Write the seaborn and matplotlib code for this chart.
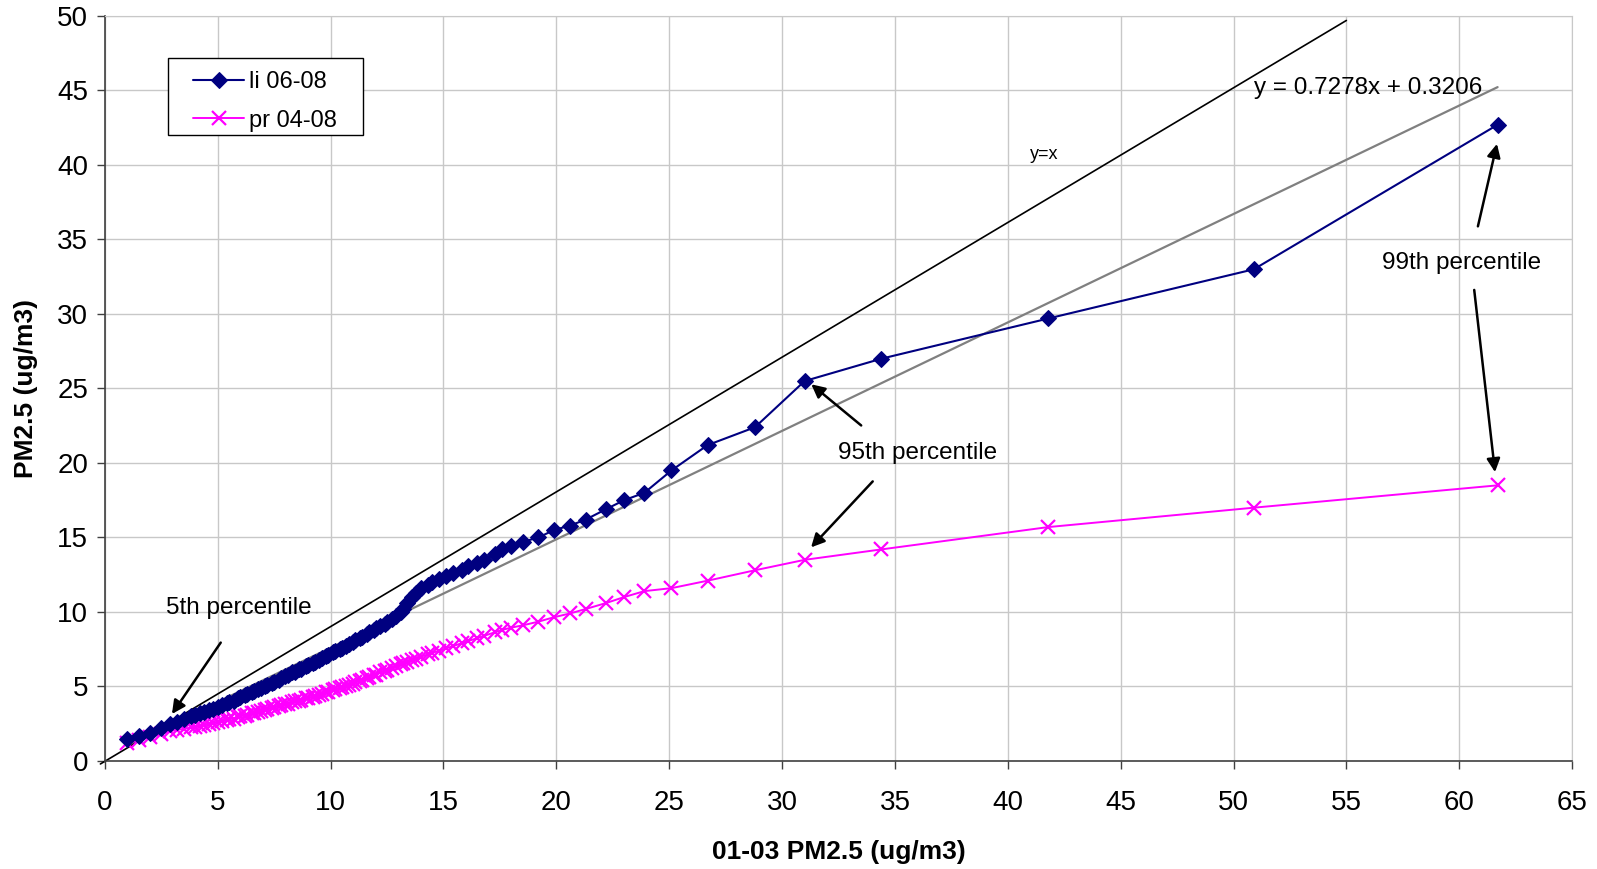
import numpy as np
import pandas as pd
import matplotlib
matplotlib.use("Agg")
import matplotlib.pyplot as plt
from matplotlib.patches import Rectangle
import seaborn as sns

# percentiles 1..99 of the 01-03 data (x axis)
base_pm = [1.0, 1.5, 2.0, 2.5, 2.9, 3.2, 3.5, 3.8, 4.0, 4.2,
           4.4, 4.6, 4.8, 5.0, 5.2, 5.4, 5.5, 5.7, 5.9, 6.0,
           6.2, 6.3, 6.5, 6.6, 6.8, 6.9, 7.1, 7.2, 7.4, 7.5,
           7.7, 7.8, 8.0, 8.1, 8.3, 8.4, 8.6, 8.7, 8.9, 9.0,
           9.2, 9.3, 9.5, 9.6, 9.8, 9.9, 10.1, 10.2, 10.4, 10.5,
           10.7, 10.8, 11.0, 11.1, 11.3, 11.4, 11.6, 11.7, 11.9, 12.0,
           12.2, 12.4, 12.5, 12.7, 12.9, 13.1, 13.2, 13.4, 13.6, 13.8,
           14.0, 14.3, 14.5, 14.8, 15.1, 15.4, 15.8, 16.1, 16.5, 16.8,
           17.3, 17.6, 18.0, 18.5, 19.2, 19.9, 20.6, 21.3, 22.2, 23.0,
           23.9, 25.1, 26.7, 28.8, 31.0, 34.4, 41.8, 50.9, 61.7]

li_pm = [1.5, 1.7, 1.9, 2.2, 2.5, 2.6, 2.8, 3.0, 3.1, 3.2,
         3.3, 3.4, 3.5, 3.6, 3.75, 3.9, 3.95, 4.05, 4.2, 4.3,
         4.4, 4.5, 4.6, 4.7, 4.85, 4.9, 5.05, 5.1, 5.25, 5.3,
         5.45, 5.55, 5.7, 5.8, 5.95, 6.0, 6.15, 6.2, 6.35, 6.45,
         6.6, 6.65, 6.8, 6.9, 7.05, 7.1, 7.3, 7.35, 7.5, 7.6,
         7.75, 7.85, 8.0, 8.1, 8.25, 8.35, 8.55, 8.65, 8.8, 8.9,
         9.05, 9.2, 9.3, 9.5, 9.75, 10.0, 10.2, 10.6, 11.0, 11.3,
         11.6, 11.8, 12.0, 12.2, 12.4, 12.6, 12.8, 13.1, 13.3, 13.5,
         13.9, 14.2, 14.4, 14.7, 15.0, 15.5, 15.8, 16.2, 16.9, 17.5,
         18.0, 19.5, 21.2, 22.4, 25.5, 27.0, 29.7, 33.0, 42.7]

pr_pm = [1.2, 1.4, 1.6, 1.8, 2.0, 2.1, 2.15, 2.25, 2.3, 2.35,
         2.4, 2.5, 2.55, 2.6, 2.7, 2.75, 2.8, 2.85, 2.95, 3.0,
         3.05, 3.1, 3.2, 3.25, 3.3, 3.35, 3.45, 3.5, 3.55, 3.6,
         3.7, 3.75, 3.8, 3.85, 3.95, 4.0, 4.05, 4.1, 4.2, 4.25,
         4.3, 4.35, 4.45, 4.5, 4.6, 4.65, 4.75, 4.8, 4.9, 4.95,
         5.05, 5.1, 5.2, 5.3, 5.4, 5.45, 5.6, 5.65, 5.75, 5.8,
         5.95, 6.05, 6.1, 6.25, 6.35, 6.5, 6.55, 6.65, 6.75, 6.85,
         7.0, 7.15, 7.25, 7.4, 7.55, 7.7, 7.9, 8.05, 8.25, 8.4,
         8.65, 8.8, 8.95, 9.1, 9.35, 9.65, 9.9, 10.2, 10.6, 11.0,
         11.4, 11.6, 12.1, 12.8, 13.5, 14.2, 15.7, 17.0, 18.5]

# drawn reference line labelled "y=x" and the fitted trend
ref_line_x = [-0.2, 55.0]
ref_line_y = [-0.2, 49.7]
trend_slope = 0.7278
trend_icpt = 0.3206

df = pd.DataFrame({"base": base_pm, "li 06-08": li_pm, "pr 04-08": pr_pm})

sns.set_style("white")
plt.rcParams["font.family"] = ["Liberation Sans", "DejaVu Sans"]
plt.rcParams["text.color"] = "black"
plt.rcParams["axes.labelcolor"] = "black"
plt.rcParams["xtick.color"] = "black"
plt.rcParams["ytick.color"] = "black"

fig = plt.figure(figsize=(15.97, 8.69), dpi=100)
ax = fig.add_axes([0.0657, 0.1243, 0.9187, 0.8573])

# trend line and y=x line
tx = np.array([min(base_pm), max(base_pm)])
ax.plot(tx, trend_slope * tx + trend_icpt, color="#808080", lw=1.6, zorder=2)
ax.plot(ref_line_x, ref_line_y, color="black", lw=1.2, zorder=2, clip_on=False)

sns.lineplot(data=df, x="base", y="li 06-08", ax=ax, sort=False, color="#000080",
             marker="D", markersize=8.5, markeredgecolor="#000080", lw=1.5,
             label="li 06-08", zorder=4)
sns.lineplot(data=df, x="base", y="pr 04-08", ax=ax, sort=False, color="#FF00FF",
             marker="x", markersize=10.5, markeredgewidth=1.6, markeredgecolor="#FF00FF",
             lw=1.4, label="pr 04-08", zorder=3)

ax.set_xlim(0, 65)
ax.set_ylim(0, 50)
ax.set_xticks(range(0, 66, 5))
ax.set_yticks(range(0, 51, 5))
ax.grid(True, color="#c8c8c8", lw=1)
ax.set_axisbelow(True)
for s in ["top", "right"]:
    ax.spines[s].set_color("#c8c8c8")
for s in ["left", "bottom"]:
    ax.spines[s].set_color("#404040")
    ax.spines[s].set_linewidth(1.2)
ax.tick_params(axis="both", direction="out", length=6, width=1, color="#404040",
               labelsize=20, bottom=True, left=True)
ax.tick_params(axis="x", pad=15)
ax.tick_params(axis="y", pad=6)

ax.set_xlabel("01-03 PM2.5 (ug/m3)", fontsize=19, fontweight="bold", labelpad=17)
ax.set_ylabel("PM2.5 (ug/m3)", fontsize=19, fontweight="bold", labelpad=14)

# legend: frame drawn separately (wide side padding as in the original)
ax.add_patch(Rectangle((0.0429, 0.8403), 0.133, 0.1033, transform=ax.transAxes,
                       facecolor="white", edgecolor="black", lw=1.0, zorder=5))
leg = ax.legend(loc="upper left", bbox_to_anchor=(0.0603, 0.926), fontsize=17,
                frameon=False, borderpad=0, borderaxespad=0,
                handlelength=2.15, handletextpad=0.2, labelspacing=0.7)
leg.set_zorder(6)

# annotations
arrow = dict(arrowstyle="-|>", color="black", lw=1.8, mutation_scale=20)
ax.text(2.7, 10.3, "5th percentile", fontsize=17.5, va="center", ha="left")
ax.annotate("", xy=(2.9, 3.0), xytext=(5.2, 8.1), arrowprops=arrow)

ax.text(36.0, 20.7, "95th percentile", fontsize=17.5, va="center", ha="center")
ax.annotate("", xy=(31.2, 25.4), xytext=(33.6, 22.4), arrowprops=arrow)
ax.annotate("", xy=(31.2, 14.2), xytext=(34.1, 18.9), arrowprops=arrow)

ax.text(60.1, 33.4, "99th percentile", fontsize=17.5, va="center", ha="center")
ax.annotate("", xy=(61.7, 41.6), xytext=(60.8, 35.7), arrowprops=arrow)
ax.annotate("", xy=(61.6, 19.2), xytext=(60.65, 31.8), arrowprops=arrow)

ax.text(41.6, 40.7, "y=x", fontsize=13, va="center", ha="center")
ax.text(50.9, 45.2, "y = 0.7278x + 0.3206", fontsize=17.5, va="center", ha="left")

fig.savefig("out.png", dpi=100)
